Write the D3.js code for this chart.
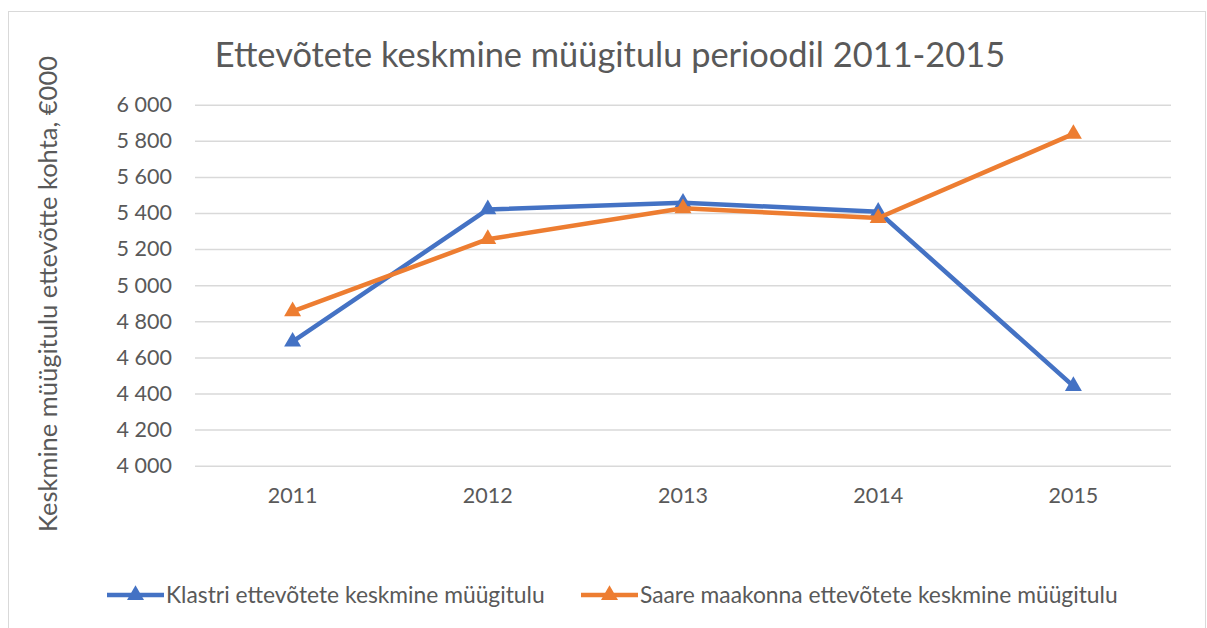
<!DOCTYPE html>
<html>
<head>
<meta charset="utf-8">
<script src="https://cdn.jsdelivr.net/npm/d3@7"></script>
<style>
  body { margin: 0; background: #fff; }
  svg { display: block; font-family: Lato, "Open Sans", sans-serif; }
</style>
</head>
<body>
<div id="chart"></div>
<script>
const years = ["2011", "2012", "2013", "2014", "2015"];
const klastri = [4687, 5420, 5457, 5407, 4441];
const saare = [4855, 5255, 5426, 5372, 5838];
const yTicks = [4000, 4200, 4400, 4600, 4800, 5000, 5200, 5400, 5600, 5800, 6000];
const seriesNames = ["Klastri ettevõtete keskmine müügitulu", "Saare maakonna ettevõtete keskmine müügitulu"];
const colors = ["#4472C4", "#ED7D31"];

function drawSvg() {
    const W = 1207, H = 628;
    const margin = { top: 104.7, right: 36, bottom: 162.3, left: 195 },
        width = W - margin.left - margin.right,
        height = H - margin.top - margin.bottom;

    const root = d3.select("#chart")
        .append("svg")
        .attr("width", W)
        .attr("height", H);

    // chart border
    root.append("rect")
        .attr("x", 8.5).attr("y", 11.5)
        .attr("width", 1197).attr("height", 630)
        .attr("fill", "none").attr("stroke", "#D9D9D9").attr("stroke-width", 1);

    // title
    root.append("text")
        .attr("x", 610).attr("y", 67)
        .attr("text-anchor", "middle")
        .attr("font-size", "34.4px")
        .attr("fill", "#595959")
        .text("Ettevõtete keskmine müügitulu perioodil 2011-2015");

    // y axis label
    root.append("text")
        .attr("transform", "translate(57,294) rotate(-90)")
        .attr("text-anchor", "middle")
        .attr("font-size", "25.5px")
        .attr("fill", "#595959")
        .text("Keskmine müügitulu ettevõtte kohta, €000");

    const svg = root.append("g")
        .attr("transform", "translate(" + margin.left + "," + margin.top + ")");

    // Y scale + gridlines
    const y = d3.scaleLinear()
        .domain([4000, 6000])
        .range([height, 0]);
    const fmt = d => d3.format(",")(d).replace(",", " ");
    const yAxis = svg.append("g")
        .call(d3.axisLeft(y).tickValues(yTicks).tickSize(-width).tickPadding(23).tickFormat(fmt));
    yAxis.select(".domain").remove();
    yAxis.selectAll("line").attr("stroke", "#D9D9D9").attr("stroke-width", 1.5);
    yAxis.selectAll("text")
        .attr("font-size", "21.5px")
        .attr("font-family", "Lato, sans-serif")
        .attr("fill", "#595959");

    // X scale
    const x = d3.scaleBand()
        .domain(years)
        .range([0, width]);
    const xAxis = svg.append("g")
        .attr("transform", "translate(0," + height + ")")
        .call(d3.axisBottom(x).tickSize(0).tickPadding(22));
    xAxis.select(".domain").remove();
    xAxis.selectAll("text")
        .attr("font-size", "21.5px")
        .attr("font-family", "Lato, sans-serif")
        .attr("fill", "#595959");

    const cx = d => x(d) + x.bandwidth() / 2;
    const line = d3.line()
        .x((d, i) => cx(years[i]))
        .y(d => y(d));
    const tri = d3.symbol().type(d3.symbolTriangle).size(125);

    [klastri, saare].forEach((vals, k) => {
        svg.append("path")
            .datum(vals)
            .attr("d", line)
            .attr("fill", "none")
            .attr("stroke", colors[k])
            .attr("stroke-width", 4.5)
            .attr("stroke-linejoin", "round");
        svg.selectAll(".m" + k)
            .data(vals)
            .enter()
            .append("path")
            .attr("transform", (d, i) => "translate(" + cx(years[i]) + "," + y(d) + ")")
            .attr("d", tri)
            .attr("fill", colors[k]);
    });

    // Legend
    const legendX = [107, 581];
    const legend = root.append("g");
    seriesNames.forEach((name, k) => {
        const g = legend.append("g").attr("transform", "translate(" + legendX[k] + ",595)");
        g.append("line")
            .attr("x1", 0).attr("x2", 57)
            .attr("stroke", colors[k]).attr("stroke-width", 4.5);
        g.append("path")
            .attr("transform", "translate(28.5,0)")
            .attr("d", tri)
            .attr("fill", colors[k]);
        g.append("text")
            .attr("x", 59).attr("y", 8)
            .attr("font-size", "22.8px")
            .attr("fill", "#595959")
            .text(name);
    });
}

drawSvg();
</script>
</body>
</html>
